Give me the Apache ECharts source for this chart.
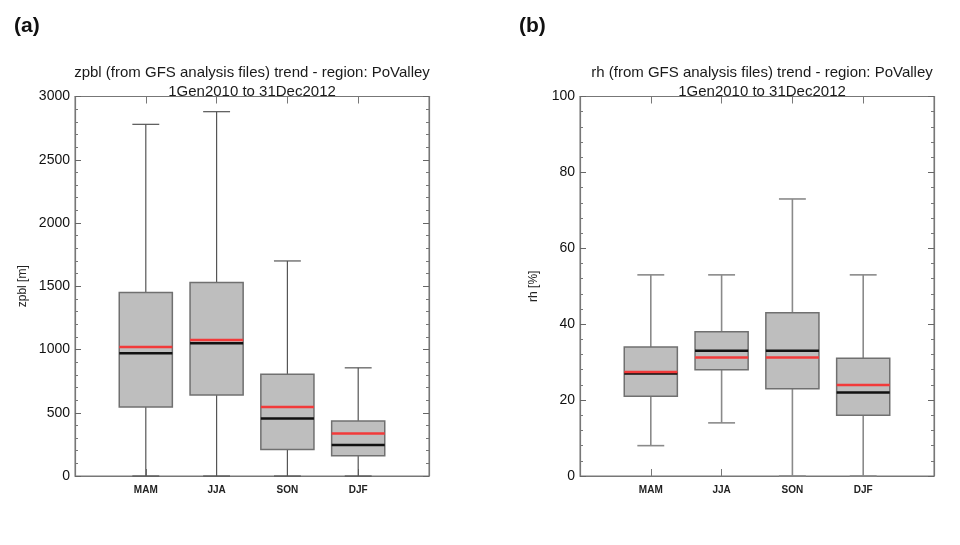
<!DOCTYPE html>
<html>
<head>
<meta charset="utf-8">
<script src="https://cdn.jsdelivr.net/npm/echarts@6/dist/echarts.min.js"></script>
<style>html,body{margin:0;padding:0;background:#fff}#c{width:960px;height:545px}</style>
</head>
<body>
<div id="c"></div>
<script>
// ---- data ----
const categories = ['MAM', 'JJA', 'SON', 'DJF'];

const zpblMin    = [0, 0, 0, 0];
const zpblQ1     = [545, 640, 210, 160];
const zpblMedian = [970, 1050, 455, 245];
const zpblMean   = [1020, 1075, 545, 335];
const zpblQ3     = [1450, 1530, 805, 435];
const zpblMax    = [2780, 2880, 1700, 855];

const rhMin    = [8, 14, 0, 0];
const rhQ1     = [21, 28, 23, 16];
const rhMedian = [27, 33, 33, 22];
const rhMean   = [27.4, 31.2, 31.2, 24];
const rhQ3     = [34, 38, 43, 31];
const rhMax    = [53, 53, 73, 53];

const zpblTicks = [0, 500, 1000, 1500, 2000, 2500, 3000];
const rhTicks = [0, 20, 40, 60, 80, 100];

const titleA = 'zpbl (from GFS analysis files) trend - region: PoValley\n1Gen2010 to 31Dec2012';
const titleB = 'rh (from GFS analysis files) trend - region: PoValley\n1Gen2010 to 31Dec2012';

// ---- build ----
function rows(mn, q1, md, mean, q3, mx) {
  return categories.map((c, i) => [i + 1, mn[i], q1[i], md[i], mean[i], q3[i], mx[i]]);
}

function makeRender(whiskerColor, whiskerWidth) {
  return function (params, api) {
    const x = api.value(0);
    const pMin = api.coord([x, api.value(1)]);
    const pQ1 = api.coord([x, api.value(2)]);
    const pMd = api.coord([x, api.value(3)]);
    const pMean = api.coord([x, api.value(4)]);
    const pQ3 = api.coord([x, api.value(5)]);
    const pMax = api.coord([x, api.value(6)]);
    const bw = api.size([0.75, 0])[0];
    const cw = api.size([0.38, 0])[0];
    const cx = pQ1[0];
    const ws = { stroke: whiskerColor, lineWidth: whiskerWidth };
    return {
      type: 'group',
      children: [
        { type: 'line', shape: { x1: cx, y1: pMin[1], x2: cx, y2: pQ1[1] }, style: ws },
        { type: 'line', shape: { x1: cx, y1: pQ3[1], x2: cx, y2: pMax[1] }, style: ws },
        { type: 'line', shape: { x1: cx - cw / 2, y1: pMin[1], x2: cx + cw / 2, y2: pMin[1] }, style: ws },
        { type: 'line', shape: { x1: cx - cw / 2, y1: pMax[1], x2: cx + cw / 2, y2: pMax[1] }, style: ws },
        { type: 'rect', shape: { x: cx - bw / 2, y: pQ3[1], width: bw, height: pQ1[1] - pQ3[1] },
          style: { fill: '#bebebe', stroke: '#707070', lineWidth: 1.5 } },
        { type: 'line', shape: { x1: cx - bw / 2, y1: pMd[1], x2: cx + bw / 2, y2: pMd[1] },
          style: { stroke: '#111', lineWidth: 2.5 } },
        { type: 'line', shape: { x1: cx - bw / 2, y1: pMean[1], x2: cx + bw / 2, y2: pMean[1] },
          style: { stroke: '#f23a3a', lineWidth: 2.5 } }
      ]
    };
  };
}

const gridA = { left: 75, top: 96.5, width: 354, height: 379.5, show: true, borderColor: '#777', borderWidth: 1, backgroundColor: 'transparent' };
const gridB = { left: 580, top: 96.5, width: 354, height: 379.5, show: true, borderColor: '#777', borderWidth: 1, backgroundColor: 'transparent' };

function xAxes(gi) {
  return [
    { gridIndex: gi, type: 'value', position: 'bottom', min: 0, max: 5, interval: 1,
      axisLine: { onZero: false, lineStyle: { color: '#777', width: 1.2 } },
      axisTick: { inside: true, length: 7, lineStyle: { color: '#777' } },
      splitLine: { show: false },
      axisLabel: { margin: 9, fontSize: 10, fontWeight: 'bold', color: '#222', fontFamily: 'Liberation Sans',
        formatter: v => categories[v - 1] || '' } },
    { gridIndex: gi, type: 'value', position: 'top', min: 0, max: 5, interval: 1,
      axisLine: { onZero: false, lineStyle: { color: '#777', width: 1.2 } },
      axisTick: { inside: true, length: 7, lineStyle: { color: '#777' } },
      splitLine: { show: false }, axisLabel: { show: false } }
  ];
}

function yAxes(gi, ticks, name, nameGap) {
  const mn = ticks[0], mx = ticks[ticks.length - 1], iv = ticks[1] - ticks[0];
  return [
    { gridIndex: gi, type: 'value', position: 'left', min: mn, max: mx, interval: iv,
      name: name, nameLocation: 'middle', nameGap: nameGap,
      nameTextStyle: { fontSize: 12, color: '#222', fontFamily: 'Liberation Sans' },
      axisLine: { show: true, onZero: false, lineStyle: { color: '#777', width: 1.2 } },
      axisTick: { show: true, inside: true, length: 6, lineStyle: { color: '#666' } },
      minorTick: { show: true, splitNumber: 5, length: 3, lineStyle: { color: '#777' } },
      splitLine: { show: false },
      axisLabel: { margin: 5, fontSize: 14, color: '#111', fontFamily: 'Liberation Sans',
        formatter: v => String(v) } },
    { gridIndex: gi, type: 'value', position: 'right', min: mn, max: mx, interval: iv,
      axisLine: { show: true, onZero: false, lineStyle: { color: '#777', width: 1.2 } },
      axisTick: { show: true, inside: true, length: 6, lineStyle: { color: '#666' } },
      minorTick: { show: true, splitNumber: 5, length: 3, lineStyle: { color: '#777' } },
      splitLine: { show: false }, axisLabel: { show: false } }
  ];
}

const chart = echarts.init(document.getElementById('c'), null, { renderer: 'canvas' });
chart.setOption({
  animation: false,
  backgroundColor: '#fff',
  title: [
    { text: '(a)', left: 9, top: 11, textStyle: { fontSize: 21, fontWeight: 'bold', color: '#111', fontFamily: 'Liberation Sans' } },
    { text: '(b)', left: 514, top: 11, textStyle: { fontSize: 21, fontWeight: 'bold', color: '#111', fontFamily: 'Liberation Sans' } },
    { text: titleA, left: 247, top: 58, textAlign: 'center',
      textStyle: { fontSize: 15, fontWeight: 'normal', lineHeight: 19, color: '#1a1a1a', fontFamily: 'Liberation Sans' } },
    { text: titleB, left: 757, top: 58, textAlign: 'center',
      textStyle: { fontSize: 15, fontWeight: 'normal', lineHeight: 19, color: '#1a1a1a', fontFamily: 'Liberation Sans' } }
  ],
  grid: [gridA, gridB],
  xAxis: xAxes(0).concat(xAxes(1)),
  yAxis: yAxes(0, zpblTicks, 'zpbl [m]', 46).concat(yAxes(1, rhTicks, 'rh [%]', 40)),
  series: [
    { type: 'custom', xAxisIndex: 0, yAxisIndex: 0, renderItem: makeRender('#555', 1.2),
      encode: { x: 0, y: [1, 2, 3, 4, 5, 6] },
      data: rows(zpblMin, zpblQ1, zpblMedian, zpblMean, zpblQ3, zpblMax), clip: false, z: 5 },
    { type: 'custom', xAxisIndex: 2, yAxisIndex: 2, renderItem: makeRender('#8a8a8a', 1.6),
      encode: { x: 0, y: [1, 2, 3, 4, 5, 6] },
      data: rows(rhMin, rhQ1, rhMedian, rhMean, rhQ3, rhMax), clip: false, z: 5 }
  ]
});
</script>
</body>
</html>
